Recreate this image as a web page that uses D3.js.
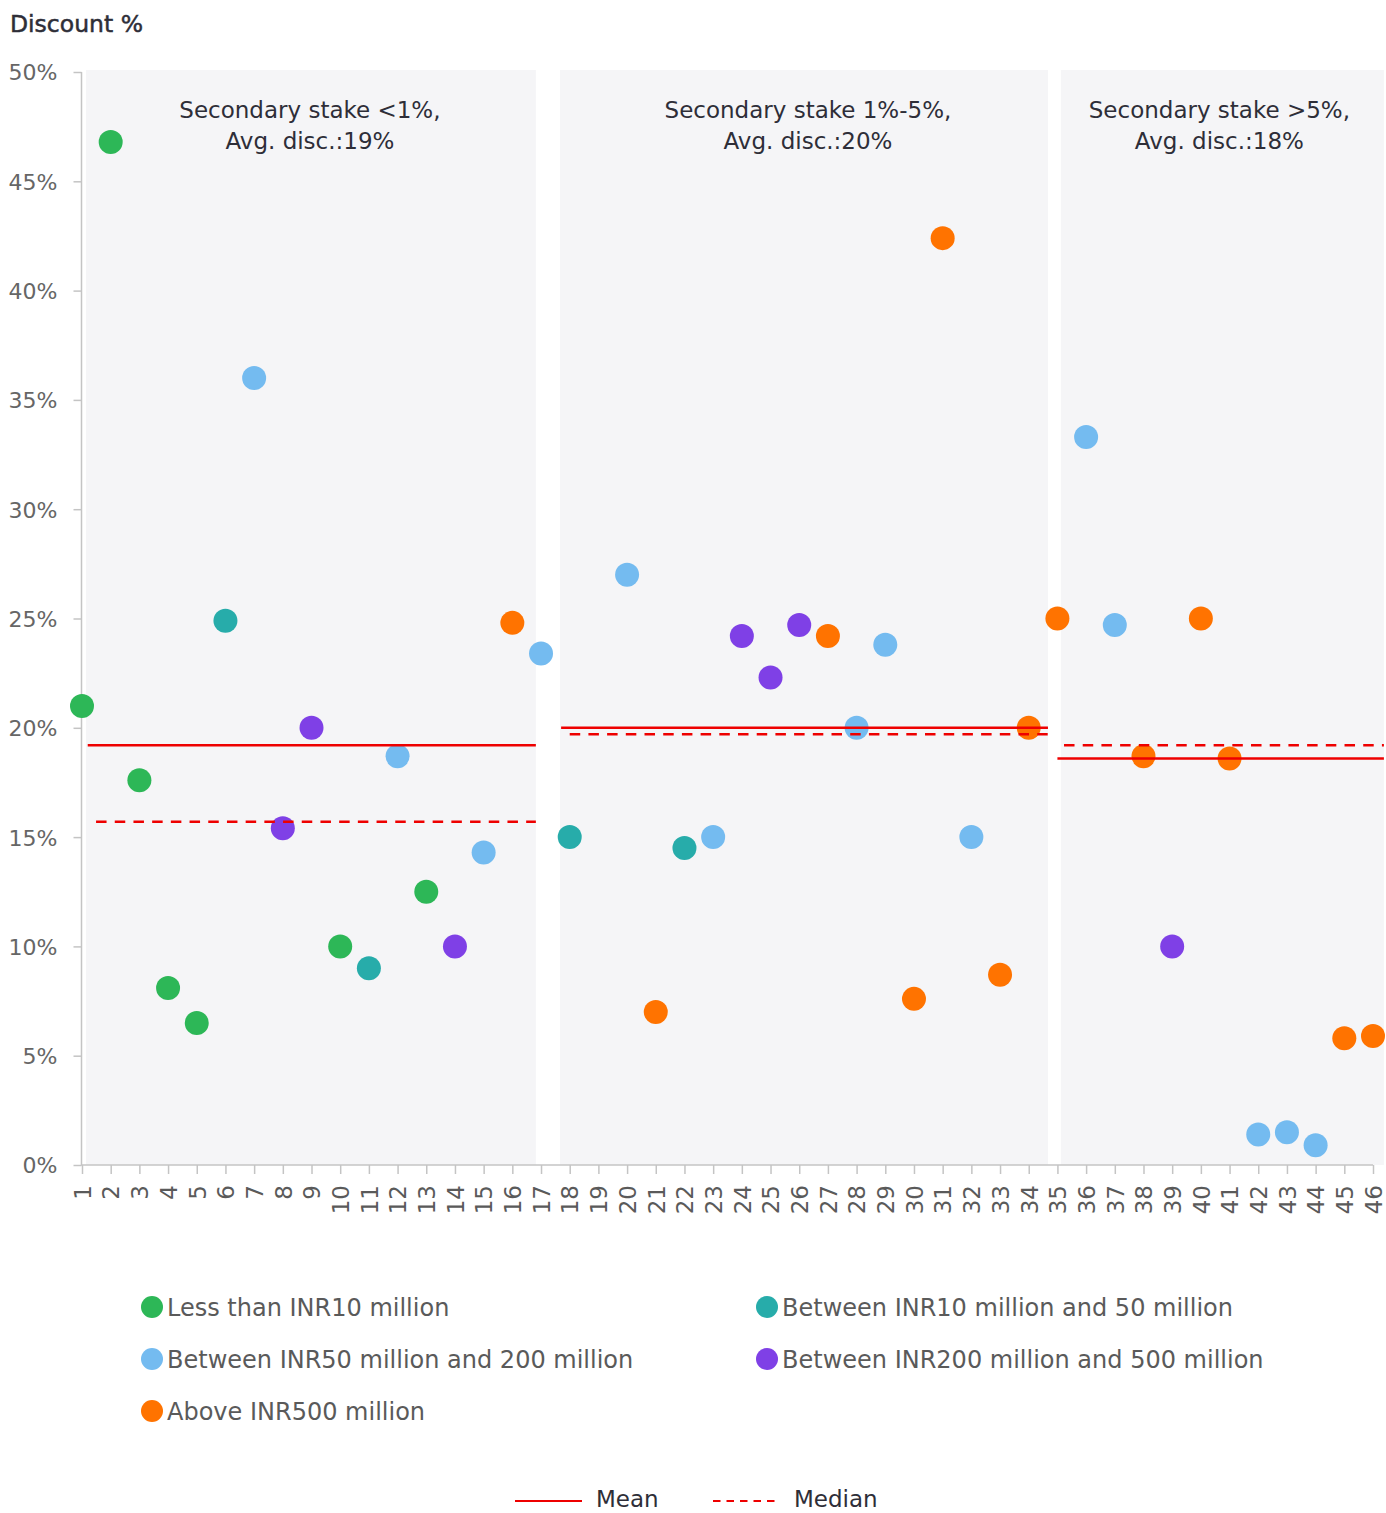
<!DOCTYPE html>
<html>
<head>
<meta charset="utf-8">
<script src="https://cdn.jsdelivr.net/npm/d3@7/dist/d3.min.js"></script>
<style>
  html, body { margin: 0; padding: 0; background: #ffffff; }
  svg { display: block; font-family: "DejaVu Sans", "Noto Sans", sans-serif; }
</style>
</head>
<body>
<svg id="chart" width="1386" height="1513"></svg>
<script>
// ---- data ----
const dealNumbers = [1,2,3,4,5,6,7,8,9,10,11,12,13,14,15,16,17,18,19,20,21,22,23,
  24,25,26,27,28,29,30,31,32,33,34,35,36,37,38,39,40,41,42,43,44,45,46];

const dealIds = [1,2,3,4,5,6,7,8,9,10,11,12,13,14,15,16,17,18,20,21,22,23,
  24,25,26,27,28,29,30,31,32,33,34,35,36,37,38,39,40,41,42,43,44,45,46];
const discounts = [21.0,46.8,17.6,8.1,6.5,24.9,36.0,15.4,20.0,10.0,9.0,18.7,12.5,10.0,14.3,24.8,23.4,15.0,
  27.0,7.0,14.5,15.0,24.2,22.3,24.7,24.2,20.0,23.8,7.6,42.4,15.0,8.7,20.0,
  25.0,33.3,24.7,18.7,10.0,25.0,18.6,1.4,1.5,0.9,5.8,5.9];
// index into sizeBands for each deal
const dealBand = [0,0,0,0,0,1,2,3,3,0,1,2,0,3,2,4,2,1,
  2,4,1,2,3,3,3,4,2,2,4,4,2,4,4,
  4,2,2,4,3,4,4,2,2,2,4,4];

const sizeBands = ["Less than INR10 million", "Between INR10 million and 50 million",
  "Between INR50 million and 200 million", "Between INR200 million and 500 million",
  "Above INR500 million"];
const bandColors = ["#2db757", "#27acaa", "#74bbf0", "#7f40e6", "#ff7300"];

const segmentTitles = [
  ["Secondary stake <1%,", "Avg. disc.:19%"],
  ["Secondary stake 1%-5%,", "Avg. disc.:20%"],
  ["Secondary stake >5%,", "Avg. disc.:18%"]
];
// segment extents along the deal axis
const segmentStart = [1.14, 17.66, 35.12];
const segmentEnd = [16.82, 34.67, 46.38];
const segmentMean = [19.2, 20.0, 18.6];
const segmentMedian = [15.7, 19.7, 19.2];
const segmentMeanFrom = [1.2, 17.7, 35.0];
const segmentMedianFrom = [1.49, 18.0, 35.23];

const yTicks = [0,5,10,15,20,25,30,35,40,45,50];

// ---- layout ----
const svg = d3.select("#chart");
const x = d3.scaleLinear().domain([1, 46]).range([82, 1373]);
const y = d3.scaleLinear().domain([0, 50]).range([1165, 72]);
const red = "#ee0000";
const dark = "#2e2e38";
const grey = "#5a5a5a";

// panel backgrounds
svg.append("g").selectAll("rect").data(segmentStart).join("rect")
  .attr("x", (d) => x(d))
  .attr("width", (d, i) => x(segmentEnd[i]) - x(d))
  .attr("y", y(50) - 2)
  .attr("height", y(0) - y(50) + 2)
  .attr("fill", "#f5f5f7");

// y axis
const yAxis = svg.append("g")
  .attr("transform", `translate(${x(1) - 0.5},0)`)
  .call(d3.axisLeft(y).tickValues(yTicks).tickFormat((d) => d + "%").tickSize(8).tickPadding(16));
yAxis.select(".domain").attr("stroke", "#c4c4c4").attr("stroke-width", 1.5).attr("d", `M0,${y(50)}V${y(0)}`);
yAxis.selectAll(".tick line").attr("stroke", "#c4c4c4").attr("stroke-width", 1.5);
yAxis.selectAll(".tick text").attr("fill", "#666").attr("font-size", 22)
  .attr("font-family", "DejaVu Sans").attr("dy", "0.36em");

// x axis
const xAxis = svg.append("g")
  .attr("transform", `translate(0,${y(0)})`)
  .call(d3.axisBottom(x).tickValues(dealNumbers).tickFormat(d3.format("d")).tickSize(9));
xAxis.select(".domain").attr("stroke", "#c4c4c4").attr("stroke-width", 1.5)
  .attr("d", `M${x(1) - 1},0H${x(46)}`);
xAxis.selectAll(".tick line").attr("stroke", "#c4c4c4").attr("stroke-width", 1.5);
xAxis.selectAll(".tick text")
  .attr("fill", grey).attr("font-size", 23).attr("font-family", "DejaVu Sans")
  .attr("text-anchor", "end")
  .attr("transform", "translate(0,20) rotate(-90)")
  .attr("x", 0).attr("y", 0).attr("dy", "0.36em");

// axis title
svg.append("text").attr("x", 10).attr("y", 32)
  .attr("fill", dark).attr("font-size", 23.5).attr("stroke", dark).attr("stroke-width", 0.5)
  .text("Discount %");

// segment titles
const titleShift = [-1, 4, -3];
segmentTitles.forEach((lines, i) => {
  const cx = (x(segmentStart[i]) + x(segmentEnd[i])) / 2 + titleShift[i];
  const t = svg.append("text").attr("text-anchor", "middle")
    .attr("fill", dark).attr("font-size", 23);
  lines.forEach((line, j) => {
    t.append("tspan").attr("x", cx).attr("y", 118 + j * 31).text(line);
  });
});

// deal points
svg.append("g").selectAll("circle").data(dealIds).join("circle")
  .attr("cx", (d) => x(d))
  .attr("cy", (d, i) => y(discounts[i]))
  .attr("r", 12)
  .attr("fill", (d, i) => bandColors[dealBand[i]]);

// mean and median lines
const stats = svg.append("g");
segmentStart.forEach((s, i) => {
  stats.append("line")
    .attr("x1", x(segmentMeanFrom[i])).attr("x2", x(segmentEnd[i]))
    .attr("y1", y(segmentMean[i])).attr("y2", y(segmentMean[i]))
    .attr("stroke", red).attr("stroke-width", 2.5);
  stats.append("line")
    .attr("x1", x(segmentMedianFrom[i])).attr("x2", x(segmentEnd[i]))
    .attr("y1", y(segmentMedian[i])).attr("y2", y(segmentMedian[i]))
    .attr("stroke", red).attr("stroke-width", 2.5).attr("stroke-dasharray", "10.5,8.2");
});

// size-band legend
const legend = svg.append("g");
sizeBands.forEach((name, i) => {
  const col = i % 2, row = Math.floor(i / 2);
  const lx = col === 0 ? 152 : 767;
  const ly = 1307 + row * 52;
  legend.append("circle").attr("cx", lx).attr("cy", ly).attr("r", 11).attr("fill", bandColors[i]);
  legend.append("text").attr("x", lx + 15).attr("y", ly + 9)
    .attr("fill", grey).attr("font-size", 24).text(name);
});

// statistic legend
const statLegend = svg.append("g");
statLegend.append("line").attr("x1", 515).attr("x2", 582).attr("y1", 1501).attr("y2", 1501)
  .attr("stroke", red).attr("stroke-width", 2);
statLegend.append("text").attr("x", 596).attr("y", 1507).attr("fill", dark).attr("font-size", 23).text("Mean");
statLegend.append("line").attr("x1", 713).attr("x2", 778).attr("y1", 1501).attr("y2", 1501)
  .attr("stroke", red).attr("stroke-width", 2).attr("stroke-dasharray", "7.5,6");
statLegend.append("text").attr("x", 794).attr("y", 1507).attr("fill", dark).attr("font-size", 23).text("Median");
</script>
</body>
</html>
